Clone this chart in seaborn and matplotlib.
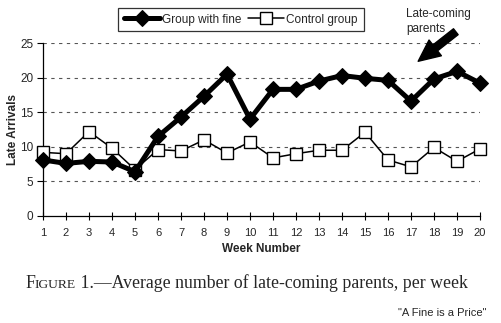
import matplotlib
matplotlib.use("Agg")
import matplotlib.pyplot as plt
import seaborn as sns
import pandas as pd

weeks = list(range(1, 21))
fine_group = [8.1, 7.6, 7.9, 7.8, 6.4, 11.5, 14.3, 17.3, 20.5, 14.0,
              18.3, 18.3, 19.5, 20.3, 19.9, 19.6, 16.6, 19.8, 20.9, 19.2]
control_group = [9.2, 9.0, 12.2, 9.8, 6.7, 9.6, 9.4, 11.0, 9.1, 10.7,
                 8.4, 9.0, 9.5, 9.5, 12.1, 8.1, 7.1, 9.9, 7.9, 9.7]
y_ticks = [0, 5, 10, 15, 20, 25]

sns.set_theme(style="white")
plt.rcParams['font.family'] = ['Liberation Sans', 'DejaVu Sans']

fig = plt.figure(figsize=(5.01, 3.23), dpi=100)
ax = fig.add_axes([43/501, 1-216/323, (480-43)/501, (216-43)/323])

df = pd.DataFrame({"week": weeks, "fine": fine_group, "control": control_group})

sns.lineplot(data=df, x="week", y="fine", ax=ax, color="black", lw=3.6,
             marker="D", markersize=7.8, markeredgecolor="black",
             markerfacecolor="black", label="Group with fine", clip_on=False, zorder=4)
sns.lineplot(data=df, x="week", y="control", ax=ax, color="black", lw=1.1,
             marker="s", markersize=8.5, markeredgecolor="black", markeredgewidth=1.0,
             markerfacecolor="white", label="Control group", clip_on=False, zorder=3)

ax.set_xlim(1, 20)
ax.set_ylim(0, 25)
ax.set_xticks(weeks)
ax.set_yticks(y_ticks)
for yv in y_ticks[1:]:
    ax.axhline(yv, color="#555555", lw=0.8, ls=(0, (3, 4)), zorder=1)

for s in ["top", "right"]:
    ax.spines[s].set_visible(False)
for s in ["left", "bottom"]:
    ax.spines[s].set_color("black")
    ax.spines[s].set_linewidth(0.9)

ax.tick_params(axis="x", direction="inout", length=6, width=0.8, color="black",
               labelsize=8, pad=6, bottom=True)
ax.tick_params(axis="y", direction="out", length=4, width=0.8, color="black",
               labelsize=8.5, pad=3, left=True)
ax.set_xlabel("Week Number", fontsize=8.5, fontweight="bold", labelpad=3)
ax.set_ylabel("Late Arrivals", fontsize=8.5, fontweight="bold")
ax.yaxis.set_label_coords((19-43)/437, 0.5)

leg = ax.legend(loc="center", bbox_to_anchor=(241/501, 1-19.5/323),
                bbox_transform=fig.transFigure, ncol=2, frameon=True,
                fancybox=False, edgecolor="black", fontsize=8.5, handlelength=3.0,
                handletextpad=0.2, columnspacing=0.6, borderpad=0.5)
leg.get_frame().set_linewidth(0.9)

fig.text(406/501, 1-8/323, "Late-coming\nparents", fontsize=8.5, va="top",
         ha="left", linespacing=1.3)
ax.annotate("", xy=(416, 323-63), xycoords="figure pixels",
            xytext=(458, 323-30), textcoords="figure pixels",
            arrowprops=dict(arrowstyle="simple,head_width=1.2,head_length=1.3,tail_width=0.45",
                            color="black", mutation_scale=12))

# Caption with small caps
fig.canvas.draw()
r = fig.canvas.get_renderer()
serif = ['Liberation Serif', 'DejaVu Serif']
ycap = 1 - 288/323
x = 25
parts = [("F", 12.8), ("IGURE", 9.7), (" 1.\u2014Average number of late-coming parents, per week", 12.8)]
for txt, fs in parts:
    t = fig.text(x/501, ycap, txt, fontsize=fs, family=serif, ha="left", va="baseline")
    bb = t.get_window_extent(r)
    x = bb.x1

fig.text(487/501, 1-316/323, '"A Fine is a Price"', fontsize=8, ha="right", va="baseline")

fig.savefig("out.png", dpi=100, facecolor="white")
